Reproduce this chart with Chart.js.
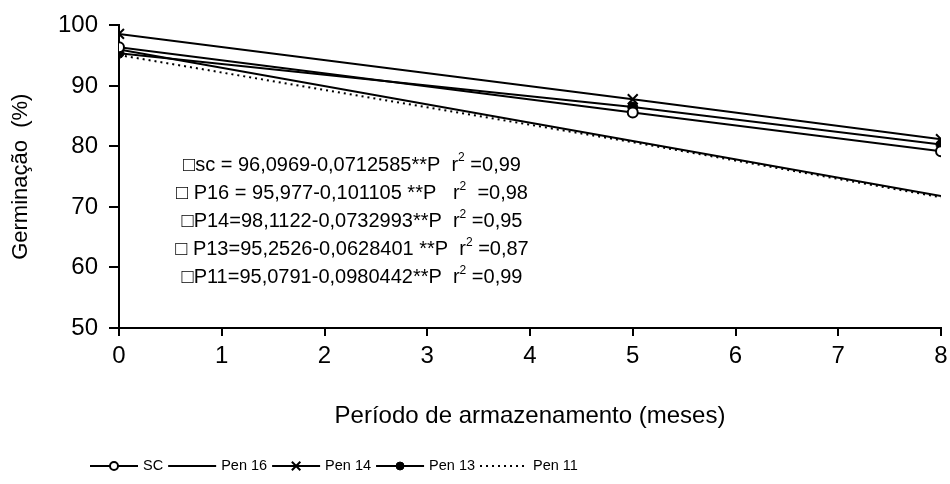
<!DOCTYPE html>
<html>
<head>
<meta charset="utf-8">
<script src="https://cdn.jsdelivr.net/npm/chart.js@4/dist/chart.umd.min.js"></script>
<style>
  html, body { margin: 0; padding: 0; background: #fff; }
  canvas { display: block; }
</style>
</head>
<body>
<canvas id="chart" width="950" height="484"></canvas>
<script>
// months where the series were sampled
const months = [0, 5, 8];

// germination (%)
const scValues    = [96.4, 85.6, 79.2];
const pen16Values = [96.0, 80.9, 71.8];
const pen14Values = [98.6, 87.8, 81.2];
const pen13Values = [95.4, 86.5, 80.3];
const pen11Values = [95.1, 80.7, 71.6];

const seriesLabels = ['SC', 'Pen 16', 'Pen 14', 'Pen 13', 'Pen 11'];

// regression text: [before superscript, after superscript]
const equations = [
  ['\u25A1sc = 96,0969-0,0712585**P  r', ' =0,99'],
  ['\u25A1 P16 = 95,977-0,101105 **P   r', '  =0,98'],
  ['\u25A1P14=98,1122-0,0732993**P  r', ' =0,95'],
  ['\u25A1 P13=95,2526-0,0628401 **P  r', ' =0,87'],
  ['\u25A1P11=95,0791-0,0980442**P  r', ' =0,99']
];

const FONT = '"Liberation Sans", Arial, sans-serif';

function toPoints(values) {
  return values.map((v, i) => ({ x: months[i], y: v }));
}

// equations block in the plot area
const equationPlugin = {
  id: 'equations',
  afterDatasetsDraw(chart) {
    const ctx = chart.ctx;
    ctx.save();
    ctx.fillStyle = '#000';
    ctx.textBaseline = 'middle';
    ctx.textAlign = 'left';
    const centerX = 352;
    const big = '20px ' + FONT;
    const small = '12px ' + FONT;
    equations.forEach((eq, i) => {
      const y = 165 + i * 28.2;
      ctx.font = big;
      const w1 = ctx.measureText(eq[0]).width;
      const w3 = ctx.measureText(eq[1]).width;
      ctx.font = small;
      const w2 = ctx.measureText('2').width;
      let x = centerX - (w1 + w2 + w3) / 2;
      ctx.font = big;
      ctx.fillText(eq[0], x, y);
      x += w1;
      ctx.font = small;
      ctx.fillText('2', x, y - 7);
      x += w2;
      ctx.font = big;
      ctx.fillText(eq[1], x, y);
    });
    ctx.restore();
  }
};

// legend with line sample + marker, like the spreadsheet one
const legendPlugin = {
  id: 'lineLegend',
  afterDraw(chart) {
    const ctx = chart.ctx;
    const y = 466;
    let x = 90;
    ctx.save();
    ctx.font = '14.5px ' + FONT;
    ctx.textBaseline = 'middle';
    chart.data.datasets.forEach(ds => {
      ctx.strokeStyle = '#000';
      ctx.lineWidth = 2;
      ctx.setLineDash(ds.borderDash || []);
      ctx.beginPath();
      ctx.moveTo(x, y);
      ctx.lineTo(x + 48, y);
      ctx.stroke();
      ctx.setLineDash([]);
      if (ds.pointRadius > 0) {
        ctx.fillStyle = ds.pointBackgroundColor;
        ctx.strokeStyle = '#000';
        ctx.lineWidth = ds.pointBorderWidth;
        Chart.helpers.drawPoint(ctx, {
          pointStyle: ds.pointStyle,
          radius: ds.pointRadius - 1,
          rotation: 0,
          borderWidth: ds.pointBorderWidth
        }, x + 24, y);
      }
      ctx.fillStyle = '#000';
      ctx.fillText(ds.label, x + 53, y);
      x += 53 + ctx.measureText(ds.label).width + 5;
    });
    ctx.restore();
  }
};

const axisColor = '#000';

new Chart(document.getElementById('chart').getContext('2d'), {
  type: 'line',
  data: {
    datasets: [
      {
        label: seriesLabels[0], data: toPoints(scValues),
        borderColor: '#000', borderWidth: 2,
        pointStyle: 'circle', pointRadius: 5,
        pointBackgroundColor: '#fff', pointBorderColor: '#000', pointBorderWidth: 2
      },
      {
        label: seriesLabels[1], data: toPoints(pen16Values),
        borderColor: '#000', borderWidth: 2, pointRadius: 0
      },
      {
        label: seriesLabels[2], data: toPoints(pen14Values),
        borderColor: '#000', borderWidth: 2,
        pointStyle: 'crossRot', pointRadius: 7,
        pointBackgroundColor: '#000', pointBorderColor: '#000', pointBorderWidth: 2
      },
      {
        label: seriesLabels[3], data: toPoints(pen13Values),
        borderColor: '#000', borderWidth: 2,
        pointStyle: 'circle', pointRadius: 5,
        pointBackgroundColor: '#000', pointBorderColor: '#000', pointBorderWidth: 1
      },
      {
        label: seriesLabels[4], data: toPoints(pen11Values),
        borderColor: '#000', borderWidth: 2, borderDash: [2, 4], pointRadius: 0
      }
    ]
  },
  options: {
    responsive: false,
    devicePixelRatio: 1,
    animation: false,
    elements: { line: { tension: 0 } },
    layout: { padding: { top: 20, right: 0, left: 0, bottom: 47 } },
    plugins: {
      legend: { display: false },
      tooltip: { enabled: false }
    },
    scales: {
      x: {
        type: 'linear',
        min: 0,
        max: 8,
        ticks: { stepSize: 1, color: '#000', font: { family: FONT, size: 24 }, padding: 6, maxRotation: 0 },
        grid: { drawOnChartArea: false, drawTicks: true, tickLength: 8, color: axisColor, lineWidth: 2 },
        border: { display: true, color: axisColor, width: 2 },
        title: {
          display: true,
          text: 'Período de armazenamento (meses)',
          color: '#000',
          font: { family: FONT, size: 24 },
          padding: { top: 0, bottom: 6 }
        },
        afterFit(scale) {
          scale.height = 109;
          scale.paddingRight = 7;
        }
      },
      y: {
        min: 50,
        max: 100,
        ticks: { stepSize: 10, color: '#000', font: { family: FONT, size: 24 }, padding: 11 },
        grid: { drawOnChartArea: false, drawTicks: true, tickLength: 10, color: axisColor, lineWidth: 2 },
        border: { display: true, color: axisColor, width: 2 },
        title: {
          display: true,
          text: 'Germinação  (%)',
          color: '#000',
          font: { family: FONT, size: 22 },
          padding: { top: 8, bottom: 0 }
        },
        afterFit(scale) { scale.width = 119; }
      }
    }
  },
  plugins: [equationPlugin, legendPlugin]
});
</script>
</body>
</html>
